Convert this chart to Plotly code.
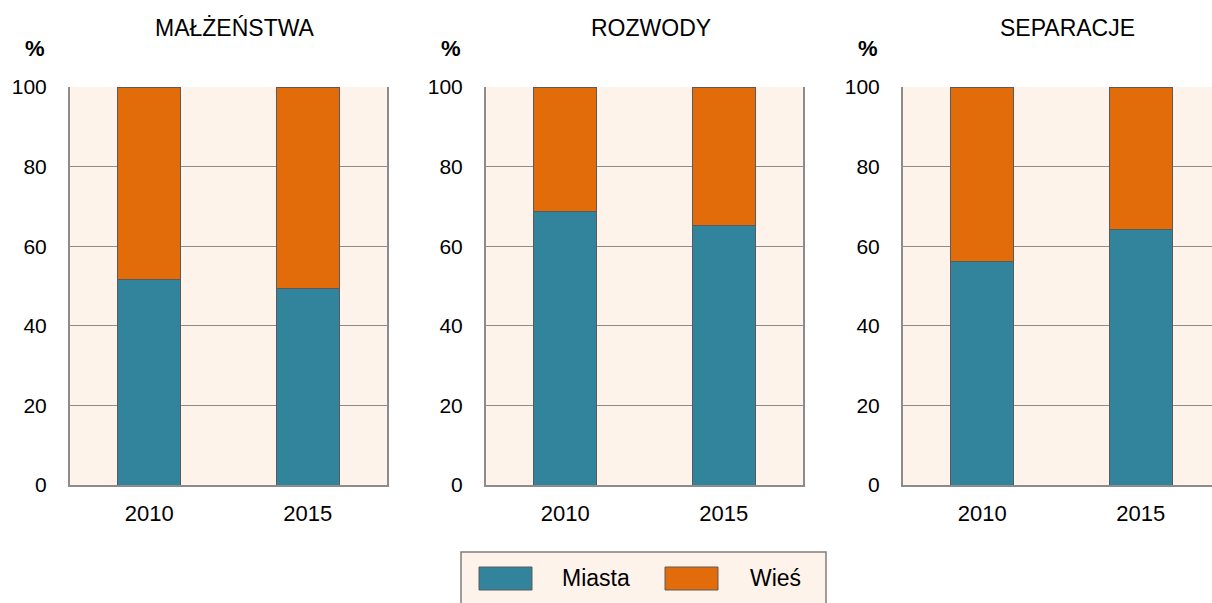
import plotly.graph_objects as go

W, H = 1212, 603

# ---- data ----
years = ["2010", "2015"]
panel_titles = ["MAŁŻEŃSTWA", "ROZWODY", "SEPARACJE"]
miasta = [[51.7, 49.4], [68.8, 65.1], [56.1, 64.2]]
wies = [[48.3, 50.6], [31.2, 34.9], [43.9, 35.8]]
series_names = ["Miasta", "Wieś"]
y_ticks = [0, 20, 40, 60, 80, 100]

# ---- style ----
C_MIASTA = "#31849B"
C_WIES = "#E36C0A"
BG = "#FDF3EA"
GRID = "#8C8C8C"
EDGE = "#5A5A5A"
FONT = "Liberation Sans, Arial, sans-serif"

def px(x):
    return x / W

def py(y):
    return 1 - y / H

x_left = [70, 486, 903]
plot_w = 317
y_top, y_bot = 87, 485

fig = go.Figure()
layout = dict(
    width=W, height=H,
    margin=dict(l=0, r=0, t=0, b=0, pad=0),
    paper_bgcolor="white",
    plot_bgcolor=BG,
    barmode="stack",
    bargap=0.6,
    showlegend=False,
    hovermode=False,
    font=dict(family=FONT, size=21, color="black"),
)

annotations = []
shapes = []
for i in range(3):
    ax = "" if i == 0 else str(i + 1)
    x0 = x_left[i]
    x1 = min(x0 + plot_w, W)
    cat_w = plot_w / 2
    rng_hi = 1.5 - (x0 + plot_w - x1) / cat_w
    fig.add_trace(go.Bar(
        x=years, y=miasta[i], name=series_names[0],
        marker=dict(color=C_MIASTA, line=dict(color=EDGE, width=1)),
        xaxis="x" + ax, yaxis="y" + ax,
    ))
    fig.add_trace(go.Bar(
        x=years, y=wies[i], name=series_names[1],
        marker=dict(color=C_WIES, line=dict(color=EDGE, width=1)),
        xaxis="x" + ax, yaxis="y" + ax,
    ))
    layout["xaxis" + ax] = dict(
        domain=[px(x0), px(x1)], anchor="y" + ax,
        type="category", range=[-0.5, rng_hi],
        showgrid=False, showline=True, linecolor=GRID, linewidth=2,
        mirror=False, ticks="", ticklabelstandoff=8,
        tickfont=dict(family=FONT, size=22),
        automargin=False, fixedrange=True,
    )
    layout["yaxis" + ax] = dict(
        domain=[py(y_bot), py(y_top)], anchor="x" + ax,
        range=[0, 100], tickvals=y_ticks,
        showgrid=True, gridcolor=GRID, gridwidth=1.2,
        showline=True, linecolor=GRID, linewidth=2,
        mirror=True, ticks="", ticklabelstandoff=17,
        zeroline=False,
        tickfont=dict(family=FONT, size=21),
        automargin=False, fixedrange=True,
    )
    annotations.append(dict(
        x=px(x0 + plot_w / 2 + 6), y=py(28), xref="paper", yref="paper",
        text=panel_titles[i], showarrow=False,
        xanchor="center", yanchor="middle",
        font=dict(family=FONT, size=23),
    ))
    annotations.append(dict(
        x=px(x0 - 35), y=py(49), xref="paper", yref="paper",
        text="<b>%</b>", showarrow=False,
        xanchor="center", yanchor="middle",
        font=dict(family=FONT, size=22),
    ))

# ---- custom legend ----
shapes.append(dict(type="rect", xref="paper", yref="paper",
                   x0=px(461), x1=px(826), y0=py(620), y1=py(552),
                   fillcolor=BG, line=dict(color="#7F7F7F", width=1.5), layer="above"))
legend_items = [(series_names[0], C_MIASTA, 479, 560), (series_names[1], C_WIES, 665, 748)]
for name, col, sx, tx in legend_items:
    shapes.append(dict(type="rect", xref="paper", yref="paper",
                       x0=px(sx), x1=px(sx + 53), y0=py(590), y1=py(567),
                       fillcolor=col, line=dict(color=EDGE, width=1), layer="above"))
    annotations.append(dict(
        x=px(tx), y=py(578), xref="paper", yref="paper",
        text=name, showarrow=False, xanchor="left", yanchor="middle",
        font=dict(family=FONT, size=23),
    ))

layout["annotations"] = annotations
layout["shapes"] = shapes
fig.update_layout(**layout)

fig.write_html("out.html", config={"displayModeBar": False, "staticPlot": True},
               post_script="document.body.style.margin='0';")
